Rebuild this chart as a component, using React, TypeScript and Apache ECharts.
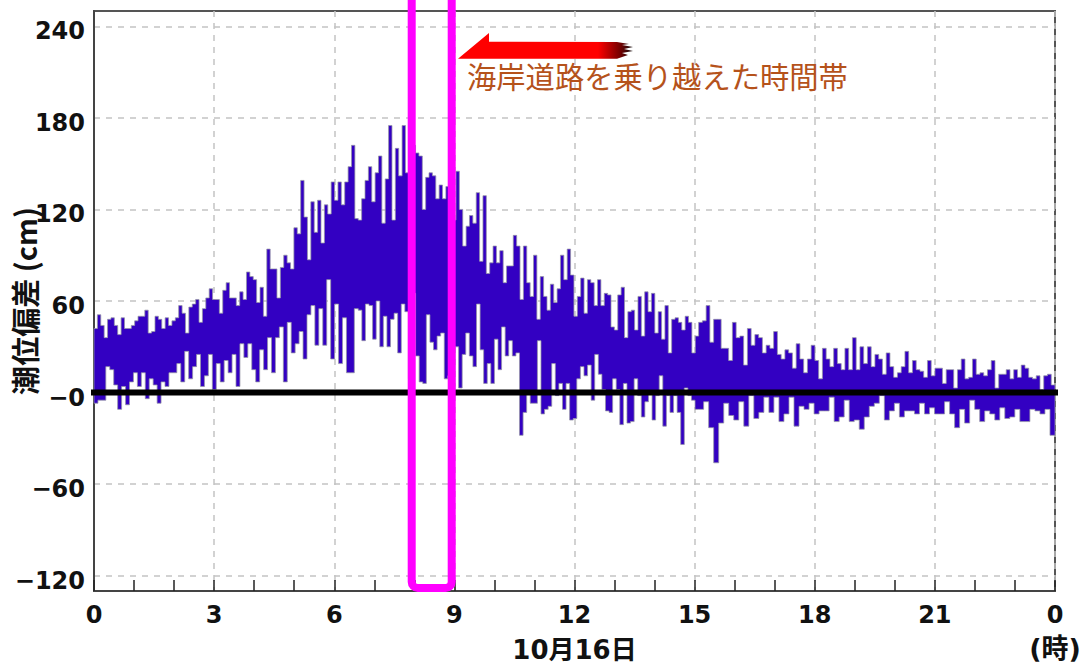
import React, { useEffect, useRef } from "react";
import * as echarts from "echarts";

const sectionHours = [0, 6.6, 15.1, 24];
const upperA = [42,51,44,36,48,49,44,38,49,42,42,44,47,50,50,54,39,40,50,48,42,49,44,47,49,57,52,39,56,58,61,46,55,62,68,61,61,52,67,72,62,62,57,66,61,79,76,74,59,69,50,94,81,81,62,82,90,85,81,108,104,139,115,87,125,105,126,98,123,117,138,126,138,123,138,148,162,114];
const upperB = [113,127,139,148,125,144,155,111,140,175,113,160,142,175,144,153,162,157,155,120,141,144,142,127,136,127,135,156,113,145,120,96,109,116,111,131,86,129,78,85,96,85,93,72,83,83,103,96,61,96,72,63,90,48,76,63,54,71,59,68,90,74,94,77,50,63,75,52,74,72,57,74,57,65,64,43,41,64,69,36,53,54,41,63,37,66,53,65,39,53,35,57,26,48,49,46,41,50,46,26,37];
const upperC = [46,47,57,33,48,48,29,29,21,46,36,37,18,42,31,38,36,26,31,29,40,25,22,28,26,16,32,22,13,22,31,21,9,29,22,17,29,19,15,29,15,36,15,30,19,30,17,25,22,12,26,17,10,13,17,27,13,21,15,14,10,21,11,16,16,6,15,15,3,15,22,9,10,22,12,13,11,15,21,3,12,12,15,9,15,10,18,16,10,9,11,2,11,12,5];
const lowerA = [-7,-5,-5,17,15,5,-11,4,-8,7,13,4,13,-4,9,5,-7,7,4,13,13,19,7,27,9,17,25,4,11,25,2,19,7,21,13,25,4,32,23,32,15,7,28,15,36,13,36,43,7,46,26,32,40,22,51,57,31,55,31,74,22,58,19,49,13,13,55];
const lowerB = [54,34,58,57,35,60,30,50,30,48,52,26,58,53,9,65,24,7,6,51,33,28,37,39,9,11,4,30,3,25,39,24,17,58,28,6,19,6,35,15,43,24,34,24,26,-28,-13,0,-7,-7,34,-14,-11,-9,19,-2,6,-11,6,-18,-17,9,17,11,18,-5,25,12,2,-12,-13,9,2,-21,6,-20,-19,9,-2,-16,-6,1,-18,-2,11,-22,-2,-13,-2,-13,-34,3,-2,-5,-11];
const lowerC = [-11,-6,-23,-46,-20,-7,-15,-18,-6,-22,-2,-17,-13,-3,-13,-3,-19,-14,-3,-22,-9,-11,-7,-14,-12,-12,-3,-19,-16,-5,-19,-18,-24,-16,-9,-7,-2,-18,-12,-7,-16,-12,-12,-14,-7,-14,-10,-14,-14,-6,-14,-23,-11,-20,-5,-11,-19,-12,-14,-18,-10,-17,-16,-11,-19,-19,-11,-12,-14,-11,-28];
const yTicks = [-120, -60, 0, 60, 120, 180, 240];
const yTitle = "潮位偏差 (cm)";
const dateLabel = "10月16日";
const hourUnit = "(時)";
const noteText = "海岸道路を乗り越えた時間帯";

function steps(sections: number[][]): number[][] {
  const out: number[][] = [];
  sections.forEach((arr, s) => {
    const t0 = sectionHours[s];
    const dt = (sectionHours[s + 1] - t0) / arr.length;
    arr.forEach((v, i) => {
      out.push([t0 + i * dt, v], [t0 + (i + 1) * dt, v]);
    });
  });
  return out;
}

const envelope = [...steps([upperA, upperB, upperC]), ...steps([lowerA, lowerB, lowerC]).reverse()];

const mixedFamily = "DejaVu Sans, Noto Sans CJK JP";
const labelFont = { fontFamily: "DejaVu Sans", fontWeight: "bold" as const, fontSize: 24, color: "#111" };

export default function App() {
  const ref = useRef<HTMLDivElement>(null);
  useEffect(() => {
    document.body.style.margin = "0";
    const chart = echarts.init(ref.current!, undefined, { renderer: "svg" });
    chart.setOption({
      animation: false,
      backgroundColor: "#fff",
      grid: { left: 94, right: 30, top: 11, bottom: 73, outerBoundsMode: "none", show: true, borderColor: "#555", borderWidth: 2, backgroundColor: "transparent" },
      xAxis: {
        type: "value", min: 0, max: 24, interval: 3,
        name: dateLabel, nameLocation: "middle", nameGap: 46,
        nameTextStyle: { fontFamily: mixedFamily, fontWeight: "bold", color: "#111", fontSize: 26, lineHeight: 26 },
        axisLine: { onZero: false, lineStyle: { color: "#444", width: 2 } },
        axisTick: { show: true, inside: true, length: 11, lineStyle: { color: "#222", width: 1.5 } },
        minorTick: { show: true, splitNumber: 3, length: 11, lineStyle: { color: "#222", width: 1.5 } },
        axisLabel: { ...labelFont, margin: 12, formatter: (v: number) => (v === 24 ? "0" : String(v)) },
        splitLine: { show: true, lineStyle: { color: "#c4c4c4", type: [6, 6], width: 1.5 } },
      },
      yAxis: {
        type: "value", min: -130, max: 250,
        axisLine: { show: true, lineStyle: { color: "#444", width: 2 } },
        axisTick: { show: false, customValues: yTicks },
        axisLabel: {
          ...labelFont, margin: 9, customValues: yTicks, verticalAlign: "top", lineHeight: 10,
          formatter: (v: number) => (v <= 0 ? "−" + Math.abs(v) : String(v)),
        },
        splitLine: { show: true, lineStyle: { color: "#c4c4c4", type: [6, 6], width: 1.5 } },
      },
      series: [
        {
          type: "custom",
          data: envelope,
          encode: { x: 0, y: 1 },
          silent: true,
          z: 3,
          renderItem: (params: any, api: any) => {
            if (params.dataIndex !== 0) return null;
            return {
              type: "polygon",
              shape: { points: envelope.map((p) => api.coord(p)) },
              style: { fill: "#3300c2", stroke: "rgba(150,150,165,0.75)", lineWidth: 1 },
            };
          },
        },
        {
          type: "line",
          data: [[0, 0], [24, 0]],
          symbol: "none",
          clip: false,
          z: 5,
          lineStyle: { color: "#000", width: 6, cap: "square" },
        },
      ],
      graphic: [
        {
          type: "rect", z: 100,
          shape: { x: 411.7, y: -20, width: 40, height: 608, r: 6 },
          style: { fill: "none", stroke: "#ff00ff", lineWidth: 8 },
        },
        {
          type: "polygon", z: 100,
          shape: { points: [[458, 58.7], [489, 33], [489, 41.7], [617, 42], [629, 44], [622, 45], [633, 47], [624, 49], [633, 51], [622, 53], [628, 55], [617, 58.7]] },
          style: {
            fill: new echarts.graphic.LinearGradient(0, 0, 1, 0, [
              { offset: 0, color: "#ff0000" },
              { offset: 0.8, color: "#ff0000" },
              { offset: 0.93, color: "#700000" },
              { offset: 1, color: "#111" },
            ]),
          },
        },
        {
          type: "text", z: 100, x: 467, y: 60,
          style: { text: noteText, fontFamily: "Noto Sans CJK JP", fontSize: 29.3, fill: "#b5521b" },
        },
        {
          type: "text", z: 100, x: 1055, y: 648,
          style: { text: hourUnit, fontFamily: mixedFamily, fontWeight: "bold", fontSize: 27, lineHeight: 27, fill: "#111", align: "center", verticalAlign: "middle" },
        },
        {
          type: "text", z: 100, x: 24, y: 301, rotation: Math.PI / 2,
          style: { text: yTitle, fontFamily: "Noto Sans CJK JP", fontWeight: "bold", fontSize: 29, lineHeight: 29, fill: "#111", align: "center", verticalAlign: "middle" },
        },
      ],
    });
    return () => chart.dispose();
  }, []);
  return <div ref={ref} style={{ position: "absolute", left: 0, top: 0, width: 1085, height: 664 }} />;
}
